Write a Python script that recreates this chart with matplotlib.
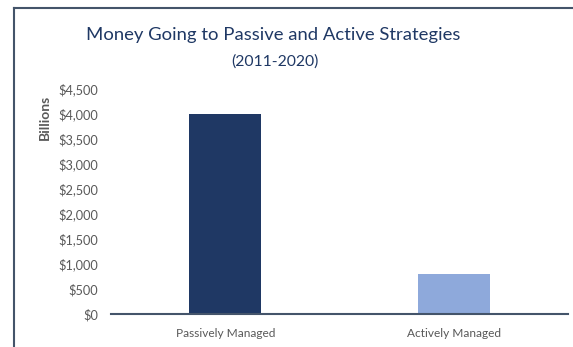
import matplotlib.pyplot as plt
from matplotlib.lines import Line2D

# Data
categories = ['Passively Managed', 'Actively Managed']
values = [4000, 800]  # billions of dollars
bar_colors = ['#1F3864', '#8EA9DB']
y_ticks = [0, 500, 1000, 1500, 2000, 2500, 3000, 3500, 4000, 4500]

plt.rcParams['font.family'] = ['Lato', 'DejaVu Sans']
text_gray = '#595959'
frame_color = '#44546A'

fig = plt.figure(figsize=(5.73, 3.47), dpi=100)
ax = fig.add_axes([0.1937, 0.0951, 0.7976, 0.6484])

ax.bar(categories, values, width=0.315, color=bar_colors)
ax.set_xlim(-0.5, 1.5)
ax.set_ylim(0, 4500)
ax.set_yticks(y_ticks)
ax.set_yticklabels([f'${v:,}' for v in y_ticks])

for side in ['top', 'right', 'left']:
    ax.spines[side].set_visible(False)
ax.spines['bottom'].set_color(frame_color)
ax.spines['bottom'].set_linewidth(1.5)
ax.tick_params(axis='both', length=0, colors=text_gray)
ax.tick_params(axis='y', pad=9, labelsize=9.2)
ax.tick_params(axis='x', pad=10, labelsize=8.6)

# Axis title
fig.text(0.079, 0.663, 'Billions', rotation=90, ha='center', va='center',
         fontsize=10, fontweight='bold', color=text_gray)

# Titles
fig.text(0.477, 0.899, 'Money Going to Passive and Active Strategies',
         ha='center', va='center', fontsize=13.3, color='#1F3864')
fig.text(0.48, 0.823, '(2011-2020)', ha='center', va='center',
         fontsize=11.3, color='#1F3864')

# Chart frame (left and top edges)
fig.add_artist(Line2D([0.025, 0.025], [0.0, 0.977], transform=fig.transFigure,
                      color=frame_color, linewidth=1.5))
fig.add_artist(Line2D([0.025, 1.0], [0.977, 0.977], transform=fig.transFigure,
                      color=frame_color, linewidth=1.5))

fig.savefig('out.png', dpi=100)
